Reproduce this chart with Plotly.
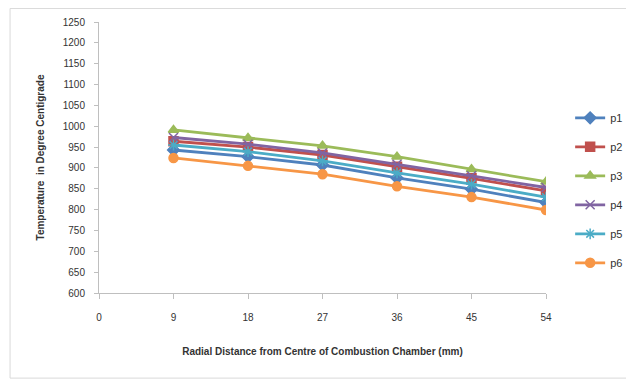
import plotly.graph_objects as go

x_vals = [9, 18, 27, 36, 45, 54]
p1 = [943, 927, 907, 876, 849, 817]
p2 = [964, 950, 931, 903, 875, 845]
p3 = [991, 972, 953, 927, 897, 867]
p4 = [973, 957, 936, 909, 881, 853]
p5 = [955, 939, 917, 888, 861, 830]
p6 = [924, 905, 885, 856, 830, 799]

series = [
    ("p1", p1, "#4F81BD", "diamond"),
    ("p2", p2, "#C0504D", "square"),
    ("p3", p3, "#9BBB59", "triangle-up"),
    ("p4", p4, "#8064A2", "x-thin-open"),
    ("p5", p5, "#4BACC6", "asterisk-open"),
    ("p6", p6, "#F79646", "circle"),
]

fig = go.Figure()
for name, vals, color, sym in series:
    fig.add_trace(go.Scatter(
        x=x_vals, y=vals, name=name, mode="lines+markers",
        line=dict(color=color, width=2.8),
        marker=dict(symbol=sym, size=9, color=color,
                    line=dict(color=color, width=1.5)),
        legendgroup=name,
    ))

fig.update_layout(
    width=626, height=374,
    margin=dict(l=91, r=88, t=14, b=89, autoexpand=False),
    paper_bgcolor="white", plot_bgcolor="white",
    font=dict(family="Liberation Sans, Arial, sans-serif", size=10, color="#333333"),
    showlegend=True,
    legend=dict(x=0.898, y=0.70, xref="container", xanchor="left", yanchor="top",
                font=dict(size=11, color="#333333"), tracegroupgap=10,
                bgcolor="rgba(0,0,0,0)"),
    xaxis=dict(range=[0, 54], tickvals=[0, 9, 18, 27, 36, 45, 54],
               showline=True, linecolor="#BFBFBF", linewidth=1,
               ticks="outside", ticklen=5, tickcolor="#BFBFBF",
               ticklabelstandoff=10,
               showgrid=False, zeroline=False,
               title=dict(text="<b>Radial Distance from Centre of Combustion Chamber (mm)</b>",
                          font=dict(size=10, color="#333333"), standoff=25)),
    yaxis=dict(range=[600, 1250], dtick=50,
               showline=True, linecolor="#BFBFBF", linewidth=1,
               ticks="outside", ticklen=4, tickcolor="#BFBFBF",
               ticklabelstandoff=7,
               showgrid=False, zeroline=False,
               title=dict(text="<b>Temperature  in Degree Centigrade</b>",
                          font=dict(size=10, color="#333333"), standoff=16)),
    shapes=[dict(type="rect", xref="paper", yref="paper",
                 x0=-0.199, x1=1.25, y0=-0.314, y1=1.05,
                 line=dict(color="#D9D9D9", width=1))],
)

fig.write_html("out.html")
